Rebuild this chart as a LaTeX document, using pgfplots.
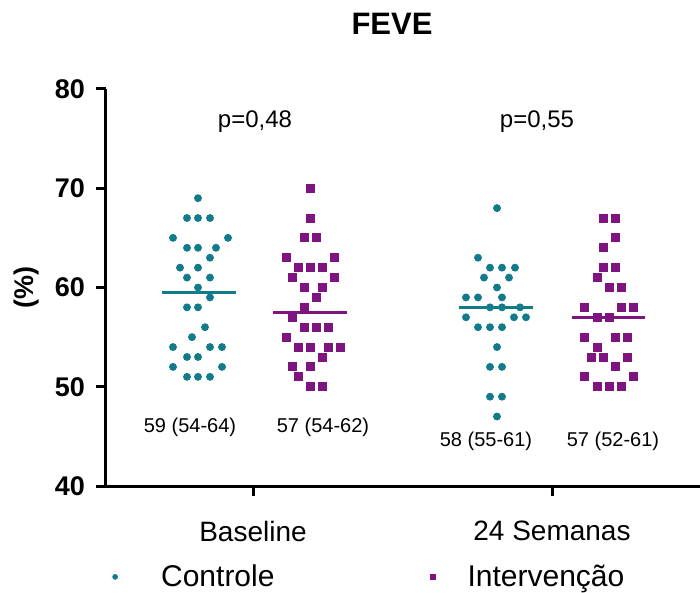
\documentclass[border=0pt]{standalone}
\usepackage{fontspec}
\setmainfont{Liberation Sans}
\usepackage{pgfplots}
\pgfplotsset{compat=1.18}
\usetikzlibrary{calc}
\definecolor{ctrl}{HTML}{127B8B}
\definecolor{intv}{HTML}{7D1480}

\begin{document}
\begin{tikzpicture}
\begin{axis}[
    scale only axis,
    width=297pt, height=198.5pt,
    xmin=106, xmax=700,
    ymin=40, ymax=80,
    axis x line*=bottom, axis y line*=left,
    axis line style={line width=1.5pt, -},
    xtick={253,552},
    xticklabels={Baseline, 24 Semanas},
    ytick={40,50,...,80},
    tick align=outside,
    major tick length=5pt,
    tick style={line width=1.5pt, black},
    /pgf/number format/assume math mode=true,
    yticklabel style={font=\fontsize{13.5}{16}\selectfont\bfseries, xshift=-2pt},
    xticklabel style={font=\fontsize{14}{17}\selectfont, yshift=-9pt},
    ylabel={(\%)},
    ylabel style={font=\fontsize{13.5}{16}\selectfont\bfseries, at={(axis description cs:-0.133,0.5)}, anchor=center},
    clip=false,
    legend columns=2,
    legend style={at={(axis description cs:0.008,-0.229)}, anchor=west, draw=none, fill=none,
        font=\fontsize{15}{18}\selectfont, inner sep=0pt,
        /tikz/every even column/.append style={column sep=75pt}},
    legend image code/.code={\draw[#1,mark size=1.2pt] plot coordinates {(0pt,0pt)};
        \path[draw=none, fill=none] (-2pt,0pt) -- (21pt,0pt);},
]
% Controle
\addplot[only marks, mark=*, mark size=1.75pt, color=ctrl] coordinates {
(198,69)
(187,67)(198,67)(210,67)
(173,65)(228,65)
(187,64)(198,64)(216,64)
(210,63)
(180,62)(198,62)
(187,61)(210,61)
(198,60)
(210,59)
(187,58)(198,58)
(205,56)
(192,55)
(173,54)(210,54)(222,54)
(187,53)(198,53)
(173,52)(222,52)
(187,51)(198,51)(210,51)
(497,68)
(478,63)
(490,62)(502,62)(515,62)
(484,61)(509,61)
(497,60)
(466,59)(478,59)(502,59)
(490,58)(502,58)(520,58)
(466,57)(514,57)(526,57)
(478,56)(490,56)(502,56)
(497,54)
(490,52)(502,52)
(490,49)(502,49)
(497,47)
};
\addlegendentry{Controle}
% Intervencao
\addplot[only marks, mark=square*, mark size=2pt, color=intv,
    legend image code/.code={\draw[intv, mark=square*, mark size=1.2pt] plot coordinates {(0pt,0pt)};
        \path[draw=none, fill=none] (-2pt,0pt) -- (15.5pt,0pt);}] coordinates {
(310,70)
(310,67)
(304,65)(316,65)
(286,63)(334,63)
(298,62)(310,62)(322,62)
(292,61)(334,61)
(304,60)(322,60)
(316,59)
(304,58)
(292,57)
(304,56)(316,56)(328,56)
(286,55)
(298,54)(310,54)(328,54)(340,54)
(322,53)
(292,52)(310,52)
(298,51)
(310,50)(322,50)
(603,67)(615,67)
(615,65)
(603,64)
(603,62)(615,62)
(597,61)
(609,60)(621,60)
(584,58)(621,58)(633,58)
(597,57)(609,57)
(584,55)(615,55)(627,55)
(597,54)
(591,53)(603,53)(627,53)
(615,52)
(584,51)(633,51)
(597,50)(609,50)(621,50)
};
\addlegendentry{Intervenção}
% medians
\addplot[ctrl, line width=1.5pt, forget plot] coordinates {(162,59.5)(236,59.5)};
\addplot[intv, line width=1.5pt, forget plot] coordinates {(273,57.5)(347,57.5)};
\addplot[ctrl, line width=1.5pt, forget plot] coordinates {(459,58)(533,58)};
\addplot[intv, line width=1.5pt, forget plot] coordinates {(572,57)(645,57)};

\node[font=\fontsize{12}{14}\selectfont] at (axis cs:255,76.7) {p=0,48};
\node[font=\fontsize{12}{14}\selectfont] at (axis cs:537,76.7) {p=0,55};
\node[font=\fontsize{10}{12}\selectfont] at (axis cs:190,45.9) {59 (54-64)};
\node[font=\fontsize{10}{12}\selectfont] at (axis cs:323,45.9) {57 (54-62)};
\node[font=\fontsize{10}{12}\selectfont] at (axis cs:486,44.5) {58 (55-61)};
\node[font=\fontsize{10}{12}\selectfont] at (axis cs:613,44.5) {57 (52-61)};
\node[font=\fontsize{15.5}{18}\selectfont\bfseries] at (axis cs:392,86.6) {FEVE};

\coordinate (sw) at (rel axis cs:0,0);
\coordinate (ne) at (rel axis cs:1,1);
\end{axis}
\pgfresetboundingbox
\path ($(sw)+(-53pt,-53.5pt)$) rectangle ($(ne)+(0pt,44.5pt)$);
\end{tikzpicture}
\end{document}
